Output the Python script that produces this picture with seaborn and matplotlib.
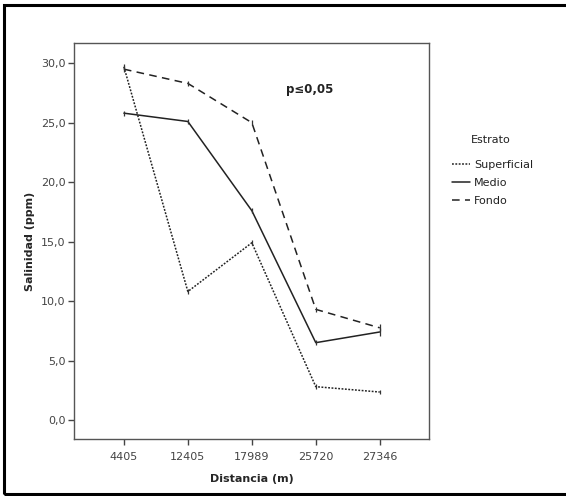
import matplotlib
matplotlib.use("Agg")
import matplotlib.pyplot as plt
import seaborn as sns
import pandas as pd
from matplotlib.patches import Rectangle
from matplotlib.lines import Line2D

# Mean salinity by station distance and depth stratum
distancias = ["4405", "12405", "17989", "25720", "27346"]
superficial = [29.7, 10.8, 14.9, 2.8, 2.35]
medio = [25.8, 25.1, 17.6, 6.5, 7.4]
fondo = [29.5, 28.3, 25.0, 9.3, 7.75]
err_superficial = [0.25, 0.2, 0.2, 0.2, 0.2]
err_medio = [0.2, 0.2, 0.2, 0.2, 0.3]
err_fondo = [0.25, 0.2, 0.2, 0.2, 0.3]
estratos = ["Superficial", "Medio", "Fondo"]

df = pd.DataFrame({
    "Distancia": distancias * 3,
    "Salinidad": superficial + medio + fondo,
    "Error": err_superficial + err_medio + err_fondo,
    "Estrato": [e for e in estratos for _ in distancias],
})

sns.set_theme(style="white")
plt.rcParams["font.family"] = ["DejaVu Sans"]

fig = plt.figure(figsize=(5.66, 4.96), dpi=100)
ax = fig.add_axes([74 / 566, 1 - 439 / 496, (429 - 74) / 566, (439 - 43) / 496])

dashes = {"Superficial": (1.2, 1.0), "Medio": "", "Fondo": (5, 3.5)}
sns.lineplot(data=df, x="Distancia", y="Salinidad", style="Estrato",
             dashes=dashes, color="#222222", linewidth=1.1, ax=ax,
             legend=False, sort=False)

pos = {d: i for i, d in enumerate(distancias)}
for est in estratos:
    sub = df[df["Estrato"] == est]
    ax.errorbar([pos[d] for d in sub["Distancia"]], sub["Salinidad"],
                yerr=sub["Error"], fmt="none", ecolor="#333333",
                elinewidth=0.9, capsize=0)

ax.set_xlim(-0.78, 4.77)
ax.set_ylim(-1.6, 31.7)
ax.set_yticks([0, 5, 10, 15, 20, 25, 30])
ax.set_yticklabels([f"{v:.1f}".replace(".", ",") for v in [0, 5, 10, 15, 20, 25, 30]])
ax.set_xticks(range(len(distancias)))
ax.set_xticklabels(distancias)
ax.tick_params(axis="both", which="major", length=4, width=1, color="#444444",
               labelsize=8, labelcolor="#444444", left=True, bottom=True)
ax.tick_params(axis="x", pad=5)
ax.tick_params(axis="y", pad=2)
for s in ax.spines.values():
    s.set_color("#555555")
    s.set_linewidth(1.0)

ax.set_xlabel("Distancia (m)", fontsize=8, fontweight="bold", labelpad=9)
ax.set_ylabel("Salinidad (ppm)", fontsize=8, fontweight="bold", labelpad=4)

ax.text(2.9, 27.8, "p≤0,05", fontsize=8.5, fontweight="bold",
        ha="center", va="center", color="#222222")

# Legend: title placed on its own, entries below
fig.text(491 / 566, 1 - 140 / 496, "Estrato", fontsize=8, color="#222222",
         ha="center", va="center")
handles = [Line2D([0], [0], color="#222222", lw=1.1, dashes=(1.2, 1.0)),
           Line2D([0], [0], color="#222222", lw=1.1),
           Line2D([0], [0], color="#222222", lw=1.1, dashes=(5, 3.5))]
fig.legend(handles, estratos, loc="upper left",
           bbox_to_anchor=(442 / 566, 1 - 150 / 496), frameon=False,
           fontsize=8, handlelength=1.6, handletextpad=0.4,
           labelspacing=0.7, labelcolor="#222222")

fig.patches.append(Rectangle((4 / 566, 2 / 496), 1.2, 1 - 7 / 496,
                             transform=fig.transFigure, fill=False,
                             edgecolor="black", linewidth=2.2))

fig.savefig("out.png", dpi=100)
